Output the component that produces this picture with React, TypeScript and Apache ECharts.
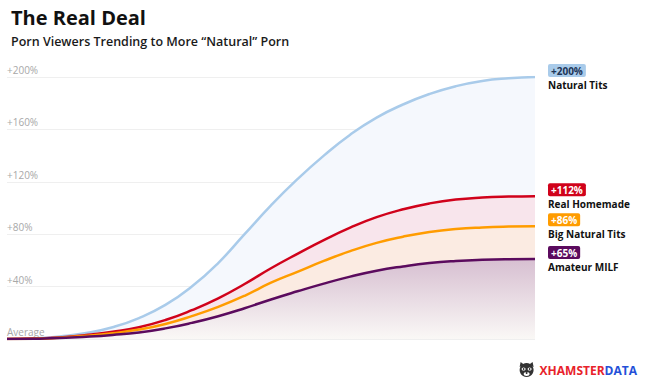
import React, { useEffect, useRef } from "react";
import * as echarts from "echarts";

const steps = Array.from({ length: 21 }, (_, i) => String(i));
const naturalTits = [0, 0.5, 2, 4.5, 9, 16, 26, 40, 58, 80, 102, 122, 140, 156, 169, 179, 187, 193, 197, 199, 200];
const realHomemade = [0, 0.3, 1.2, 3, 5.5, 9, 14.5, 22, 31, 42, 54, 65, 75.5, 85, 93, 99, 103.5, 106.5, 108, 108.7, 109];
const bigNaturalTits = [0, 0.2, 1, 2.4, 4.4, 7.2, 11.5, 17.5, 24.5, 33, 43, 51.3, 59.6, 67.1, 73.4, 78.1, 81.7, 84, 85.2, 85.8, 86];
const amateurMilf = [0, 0.2, 0.7, 1.7, 3.1, 5, 8.1, 12.3, 17.4, 23.5, 30.2, 36.4, 42.3, 47.6, 52.1, 55.4, 58, 59.6, 60.5, 60.9, 61];

const seriesNames = ["Natural Tits", "Real Homemade", "Big Natural Tits", "Amateur MILF"];
const badgeTexts = ["+200%", "+112%", "+86%", "+65%"];
const yTicks = [0, 40, 80, 120, 160, 200];

const lineColors = ["#a9cbea", "#d0021b", "#ff9c00", "#5b0b5e"];
const badgeTextColors = ["#1d3557", "#ffffff", "#ffffff", "#ffffff"];
const FONT = "'Open Sans', 'DejaVu Sans', sans-serif";

export default function App() {
  const ref = useRef<HTMLDivElement>(null);
  useEffect(() => {
    if (!ref.current) return;
    const chart = echarts.init(ref.current, undefined, { renderer: "svg" });
    const values = [naturalTits, realHomemade, bigNaturalTits, amateurMilf];
    const areas: any[] = [
      { color: "#f5f8fd" },
      { color: "#f8e5ec" },
      { color: "#fbebe2" },
      {
        color: new echarts.graphic.LinearGradient(0, 0, 0, 1, [
          { offset: 0, color: "#d7bfd1" },
          { offset: 1, color: "#faf8f6" },
        ]),
      },
    ];
    const series = values.map((data, i) => ({
      type: "line",
      name: seriesNames[i],
      data,
      smooth: 0.5,
      symbol: "none",
      lineStyle: { color: lineColors[i], width: 2.5 },
      areaStyle: { ...areas[i], opacity: 1 },
      z: 2 + i,
      endLabel: {
        show: true,
        distance: 13,
        formatter: () => `{b|${badgeTexts[i]}}\n{n|${seriesNames[i]}}`,
        rich: {
          b: {
            backgroundColor: lineColors[i],
            color: badgeTextColors[i],
            fontFamily: FONT,
            fontWeight: "bold",
            fontSize: 10,
            padding: [2, 3, 1, 3],
            borderRadius: 2,
            lineHeight: 14,
          },
          n: {
            color: "#111111",
            fontFamily: FONT,
            fontWeight: "bold",
            fontSize: 10,
            lineHeight: 13,
            padding: [2, 0, 0, 0],
          },
        },
      },
    }));
    chart.setOption({
      animation: false,
      backgroundColor: "#ffffff",
      title: {
        text: "The Real Deal",
        subtext: "Porn Viewers Trending to More “Natural” Porn",
        left: 6,
        top: 2,
        itemGap: 8,
        textStyle: { fontFamily: FONT, fontSize: 20, fontWeight: "bold", color: "#111111" },
        subtextStyle: { fontFamily: FONT, fontSize: 12.5, fontWeight: 600, color: "#1a1a1a" },
      },
      grid: { left: 7, right: 110, top: 77, bottom: 44 },
      xAxis: {
        type: "category",
        data: steps,
        boundaryGap: false,
        axisLine: { show: false },
        axisTick: { show: false },
        axisLabel: { show: false },
        splitLine: { show: false },
      },
      yAxis: {
        type: "value",
        min: yTicks[0],
        max: yTicks[yTicks.length - 1],
        interval: 40,
        axisLine: { show: false },
        axisTick: { show: false },
        splitLine: { lineStyle: { color: "#efefef", width: 1 } },
        axisLabel: {
          inside: true,
          margin: 0,
          verticalAlign: "bottom",
          padding: [0, 0, 2, 0],
          color: "#a8a8a8",
          fontFamily: FONT,
          fontSize: 10,
          formatter: (v: number) => (v === 0 ? "Average" : `+${v}%`),
        },
      },
      series,
      graphic: [
        {
          type: "group",
          right: 8,
          bottom: 6,
          children: [
            { type: "circle", shape: { cx: 8, cy: 8, r: 7 }, style: { fill: "#333333" } },
            { type: "polygon", shape: { points: [[1, 5], [2, 0], [6, 3]] }, style: { fill: "#333333" } },
            { type: "polygon", shape: { points: [[15, 5], [14, 0], [10, 3]] }, style: { fill: "#333333" } },
            { type: "ellipse", shape: { cx: 5, cy: 7, rx: 2, ry: 1.6 }, style: { fill: "#ffffff" } },
            { type: "ellipse", shape: { cx: 11, cy: 7, rx: 2, ry: 1.6 }, style: { fill: "#ffffff" } },
            { type: "circle", shape: { cx: 5, cy: 7, r: 0.8 }, style: { fill: "#222222" } },
            { type: "circle", shape: { cx: 11, cy: 7, r: 0.8 }, style: { fill: "#222222" } },
            { type: "ellipse", shape: { cx: 8, cy: 12, rx: 3, ry: 2 }, style: { fill: "#ffffff" } },
            { type: "circle", shape: { cx: 8, cy: 11, r: 0.9 }, style: { fill: "#222222" } },
            {
              type: "text",
              x: 21,
              y: 2,
              style: { text: "XHAMSTER", fill: "#e8222b", font: `bold 12px ${FONT}` },
            },
            {
              type: "text",
              x: 86,
              y: 2,
              style: { text: "DATA", fill: "#2450d8", font: `bold 12px ${FONT}` },
            },
          ],
        },
      ],
    });
    return () => chart.dispose();
  }, []);
  return (
    <div
      ref={ref}
      style={{ position: "fixed", left: 0, top: 0, width: 645, height: 383, background: "#fff" }}
    />
  );
}
